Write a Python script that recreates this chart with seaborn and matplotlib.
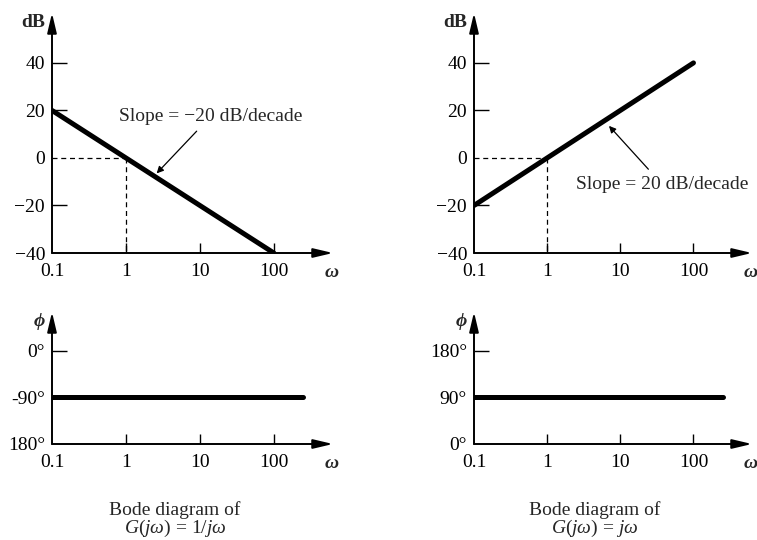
import matplotlib
matplotlib.use("Agg")
import numpy as np
import pandas as pd
import seaborn as sns
import matplotlib.pyplot as plt

# data
freq = [0.1, 1, 10, 100]
mag_integrator = [20, 0, -20, -40]
mag_differentiator = [-20, 0, 20, 40]
phase_freq = [0.1, 250]
phase_integrator = [-90, -90]
phase_differentiator = [90, 90]

freq_ticks = [0.1, 1, 10, 100]
freq_labels = ["0.1", "1", "10", "100"]
mag_ticks = [-40, -20, 0, 20, 40]
mag_labels = ["\u221240", "\u221220", "0", "20", "40"]
phase_ticks_int = [-180, -90, 0]
phase_labels_int = ["180\u00b0", "-90\u00b0", "0\u00b0"]
phase_ticks_diff = [0, 90, 180]
phase_labels_diff = ["0\u00b0", "90\u00b0", "180\u00b0"]

sns.set_style("white")
plt.rcParams["font.family"] = ["Liberation Serif", "DejaVu Serif"]
plt.rcParams["mathtext.fontset"] = "custom"
plt.rcParams["mathtext.rm"] = "Liberation Serif"
plt.rcParams["mathtext.it"] = "Liberation Serif:italic"
plt.rcParams["mathtext.bf"] = "Liberation Serif:bold"

W, H = 757, 540
FS = 14
fig = plt.figure(figsize=(W / 100, H / 100), dpi=100)


def rect(x0, x1, ytop, ybot):
    return [x0 / W, (H - ybot) / H, (x1 - x0) / W, (ybot - ytop) / H]


XMAX = 10 ** 2.8


def setup(ax, ylim, yticks, ylabels, ylab, xpad=7, hide_ticks=()):
    ax.set_xscale("log")
    ax.set_xlim(0.1, XMAX)
    ax.set_ylim(*ylim)
    for s in ax.spines.values():
        s.set_visible(False)
    arrow = dict(arrowstyle="-|>,head_length=0.85,head_width=0.2", lw=1.4, color="black",
                 mutation_scale=14, shrinkA=0, shrinkB=0)
    ax.annotate("", xy=(1, 0), xytext=(0, 0), xycoords="axes fraction", arrowprops=arrow)
    ax.annotate("", xy=(0, 1), xytext=(0, 0), xycoords="axes fraction", arrowprops=arrow)
    ax.set_xticks(freq_ticks)
    ax.set_xticklabels(freq_labels)
    ax.minorticks_off()
    ax.set_yticks(yticks)
    ax.set_yticklabels(ylabels)
    ax.tick_params(axis="x", direction="in", length=7, width=1, pad=xpad, labelsize=FS,
                   bottom=True, colors="black")
    ax.tick_params(axis="y", direction="in", length=11, width=1, pad=5, labelsize=FS,
                   left=True, colors="black")
    ax.get_xticklines()[0].set_visible(False)
    for i in hide_ticks:
        ax.yaxis.get_major_ticks()[i].tick1line.set_visible(False)
    ax.annotate(ylab, xy=(0, 1), xycoords="axes fraction", xytext=(-5, -7),
                textcoords="offset points", ha="right", va="center",
                fontsize=FS, fontweight="bold", style="italic" if ylab != "dB" else "normal")
    ax.annotate("\u03c9", xy=(1, 0), xycoords="axes fraction", xytext=(-1, -(xpad + 7)),
                textcoords="offset points", ha="center", va="center",
                fontsize=FS, fontweight="bold", style="italic")
    ax.set_xlabel("")
    ax.set_ylabel("")


LW = 3.6
DASH = (4, 3)

# top left: magnitude of 1/jw
ax1 = fig.add_axes(rect(52, 333, 13, 253))
sns.lineplot(x=freq, y=mag_integrator, ax=ax1, color="black", lw=LW)
ax1.plot([0.1, 1], [0, 0], "k--", lw=0.9, dashes=DASH)
ax1.plot([1, 1], [0, -40], "k--", lw=0.9, dashes=DASH)
setup(ax1, (-40, 61), mag_ticks, mag_labels, "dB", hide_ticks=(0, 2))
ax1.annotate("Slope = \u221220 dB/decade", xy=(2.6, -6.5), xytext=(14, 17.5),
             ha="center", va="center", fontsize=FS,
             arrowprops=dict(arrowstyle="-|>", lw=0.9, color="black", mutation_scale=10,
                             shrinkA=3, shrinkB=0))

# top right: magnitude of jw
ax2 = fig.add_axes(rect(474, 752, 13, 253))
sns.lineplot(x=freq, y=mag_differentiator, ax=ax2, color="black", lw=LW)
ax2.plot([0.1, 1], [0, 0], "k--", lw=0.9, dashes=DASH)
ax2.plot([1, 1], [0, -40], "k--", lw=0.9, dashes=DASH)
setup(ax2, (-40, 61), mag_ticks, mag_labels, "dB", hide_ticks=(0, 2))
ax2.annotate("Slope = 20 dB/decade", xy=(7.0, 13.5), xytext=(37, -11),
             ha="center", va="center", fontsize=FS,
             arrowprops=dict(arrowstyle="-|>", lw=0.9, color="black", mutation_scale=10,
                             shrinkA=3, shrinkB=0))

# bottom left: phase of 1/jw
ax3 = fig.add_axes(rect(52, 333, 312, 444))
sns.lineplot(x=phase_freq, y=phase_integrator, ax=ax3, color="black", lw=LW)
setup(ax3, (-180, 75), phase_ticks_int, phase_labels_int, "\u03d5", hide_ticks=(0, 1))

# bottom right: phase of jw
ax4 = fig.add_axes(rect(474, 752, 312, 444))
sns.lineplot(x=phase_freq, y=phase_differentiator, ax=ax4, color="black", lw=LW)
setup(ax4, (0, 255), phase_ticks_diff, phase_labels_diff, "\u03d5", hide_ticks=(0, 1))

# captions
for cx, expr in [(175, r"$G(j\omega)$ = 1/$j\omega$"), (595, r"$G(j\omega)$ = $j\omega$")]:
    fig.text(cx / W, 1 - 510 / H, "Bode diagram of", ha="center", va="center", fontsize=FS)
    fig.text(cx / W, 1 - 528 / H, expr, ha="center", va="center", fontsize=FS)

fig.savefig("out.png", dpi=100, facecolor="white")
